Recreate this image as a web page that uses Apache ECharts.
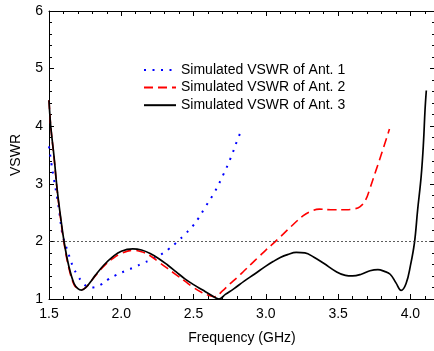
<!DOCTYPE html>
<html>
<head>
<meta charset="utf-8">
<script src="https://cdn.jsdelivr.net/npm/echarts@6/dist/echarts.min.js"></script>
<style>
  html, body { margin: 0; padding: 0; overflow: hidden; background: #fff; }
  #main { width: 436px; height: 351px; }
</style>
</head>
<body>
<div id="main"></div>
<script>
// Ant. 1 - blue dotted
const freq1 = [1.50, 1.516, 1.535, 1.557, 1.574, 1.592, 1.626, 1.645, 1.666, 1.695, 1.737, 1.77, 1.795, 1.852, 1.91, 1.968, 2.03, 2.089, 2.147, 2.204, 2.267, 2.324, 2.382, 2.439, 2.492, 2.536, 2.572, 2.646, 2.704, 2.757, 2.80, 2.826];
const vswr1 = [3.65, 3.36, 3.07, 2.75, 2.46, 2.14, 1.85, 1.71, 1.56, 1.42, 1.27, 1.21, 1.20, 1.24, 1.34, 1.42, 1.49, 1.55, 1.62, 1.68, 1.76, 1.86, 1.98, 2.12, 2.26, 2.41, 2.56, 2.86, 3.15, 3.45, 3.74, 3.90];

// Ant. 2 - red dashed
const freq2 = [1.50, 1.512, 1.535, 1.557, 1.58, 1.604, 1.638, 1.673, 1.70, 1.725, 1.755, 1.788, 1.82, 1.88, 1.94, 2.00, 2.08, 2.14, 2.20, 2.26, 2.32, 2.38, 2.44, 2.50, 2.56, 2.61, 2.646, 2.70, 2.75, 2.80, 2.85, 2.90, 2.95, 3.00, 3.05, 3.10, 3.15, 3.20, 3.25, 3.30, 3.37, 3.45, 3.55, 3.60, 3.65, 3.69, 3.72, 3.76, 3.80, 3.855];
const vswr2 = [4.45, 4.0, 3.45, 2.87, 2.40, 1.97, 1.53, 1.25, 1.18, 1.16, 1.20, 1.30, 1.40, 1.57, 1.70, 1.79, 1.845, 1.82, 1.75, 1.64, 1.53, 1.42, 1.31, 1.20, 1.11, 1.06, 1.04, 1.14, 1.26, 1.37, 1.49, 1.61, 1.73, 1.85, 1.96, 2.08, 2.20, 2.32, 2.43, 2.51, 2.56, 2.55, 2.55, 2.56, 2.60, 2.72, 2.92, 3.22, 3.52, 3.95];

// Ant. 3 - black solid
const freq3 = [1.50, 1.512, 1.535, 1.557, 1.58, 1.604, 1.638, 1.673, 1.70, 1.725, 1.755, 1.788, 1.82, 1.88, 1.94, 2.00, 2.08, 2.14, 2.20, 2.26, 2.32, 2.38, 2.44, 2.50, 2.56, 2.62, 2.676, 2.72, 2.78, 2.85, 2.92, 3.00, 3.05, 3.10, 3.15, 3.21, 3.27, 3.33, 3.40, 3.49, 3.55, 3.60, 3.66, 3.72, 3.775, 3.82, 3.86, 3.90, 3.936, 3.97, 4.00, 4.028, 4.05, 4.074, 4.09, 4.101, 4.11];
const vswr3 = [4.45, 4.0, 3.47, 2.89, 2.43, 2.0, 1.56, 1.27, 1.18, 1.155, 1.20, 1.30, 1.41, 1.59, 1.73, 1.83, 1.87, 1.85, 1.79, 1.70, 1.59, 1.47, 1.35, 1.25, 1.16, 1.07, 1.0, 1.08, 1.18, 1.31, 1.43, 1.57, 1.65, 1.72, 1.77, 1.81, 1.80, 1.73, 1.62, 1.47, 1.41, 1.40, 1.43, 1.49, 1.51, 1.48, 1.43, 1.28, 1.15, 1.27, 1.58, 1.98, 2.55, 3.12, 3.70, 4.28, 4.62];

const names = ['Simulated VSWR of Ant. 1', 'Simulated VSWR of Ant. 2', 'Simulated VSWR of Ant. 3'];
const refLevel = 2;

const font = 'Arial, "Liberation Sans", sans-serif';

function pairs(xs, ys) {
  return xs.map((x, i) => [x, ys[i]]);
}

const chart = echarts.init(document.getElementById('main'));

// main x axis with labels, plus a minor-tick copy; same again on top
function xAxes() {
  const base = {
    type: 'value', min: 1.5, max: 4.17,
    splitLine: { show: false },
    axisLine: { show: true, onZero: false, lineStyle: { color: '#000', width: 1 } }
  };
  return [
    Object.assign({}, base, {
      position: 'bottom', interval: 0.5,
      axisTick: { inside: true, length: 5, lineStyle: { color: '#000' } },
      axisLabel: {
        margin: 8, color: '#000', fontSize: 14, fontFamily: font,
        showMaxLabel: false,
        formatter: v => v.toFixed(1)
      },
      name: 'Frequency (GHz)', nameLocation: 'middle', nameGap: 32,
      nameTextStyle: { color: '#000', fontSize: 14, fontFamily: font }
    }),
    Object.assign({}, base, {
      position: 'bottom', interval: 0.1,
      axisLine: { show: false },
      axisTick: { inside: true, length: 3, lineStyle: { color: '#000' } },
      axisLabel: { show: false }
    }),
    Object.assign({}, base, {
      position: 'top', interval: 0.5,
      axisTick: { inside: true, length: 5, lineStyle: { color: '#000' } },
      axisLabel: { show: false }
    }),
    Object.assign({}, base, {
      position: 'top', interval: 0.1,
      axisLine: { show: false },
      axisTick: { inside: true, length: 3, lineStyle: { color: '#000' } },
      axisLabel: { show: false }
    })
  ];
}

const option = {
  animation: false,
  backgroundColor: '#fff',
  grid: { left: 49, right: 1, top: 11, bottom: 52 },
  legend: {
    data: names,
    orient: 'vertical',
    left: 143, top: 63, padding: 0,
    itemWidth: 32, itemHeight: 14, itemGap: 3.6,
    itemStyle: { opacity: 0 },
    textStyle: { color: '#000', fontSize: 14, fontFamily: font }
  },
  xAxis: xAxes(),
  yAxis: [
    {
      type: 'value', position: 'left', min: 1, max: 6, interval: 1,
      splitLine: { show: false },
      axisLine: { show: true, onZero: false, lineStyle: { color: '#000', width: 1 } },
      axisTick: { inside: true, length: 5, lineStyle: { color: '#000' } },
      minorTick: { show: true, splitNumber: 5, length: 3, lineStyle: { color: '#000' } },
      axisLabel: { margin: 6, color: '#000', fontSize: 14, fontFamily: font },
      name: 'VSWR', nameLocation: 'middle', nameGap: 26,
      nameTextStyle: { color: '#000', fontSize: 14, fontFamily: font }
    },
    {
      type: 'value', position: 'right', min: 1, max: 6, interval: 1,
      splitLine: { show: false },
      axisLine: { show: true, onZero: false, lineStyle: { color: '#000', width: 1 } },
      axisTick: { inside: true, length: 5, lineStyle: { color: '#000' } },
      minorTick: { show: true, splitNumber: 5, length: 3, lineStyle: { color: '#000' } },
      axisLabel: { show: false }
    }
  ],
  series: [
    {
      name: names[0], type: 'line', smooth: 0.4, symbol: 'none',
      data: pairs(freq1, vswr1),
      lineStyle: { color: '#0000ff', width: 2, type: [2, 6.5] },
      itemStyle: { color: '#0000ff' }
    },
    {
      name: names[1], type: 'line', smooth: 0.4, symbol: 'none',
      data: pairs(freq2, vswr2),
      lineStyle: { color: '#ff0000', width: 1.6, type: [9, 5] },
      itemStyle: { color: '#ff0000' }
    },
    {
      name: names[2], type: 'line', smooth: 0.4, symbol: 'none',
      data: pairs(freq3, vswr3),
      lineStyle: { color: '#000', width: 1.7 },
      itemStyle: { color: '#000' },
      markLine: {
        silent: true, symbol: 'none',
        label: { show: false },
        lineStyle: { color: '#333', width: 0.8, type: [2, 2] },
        data: [{ yAxis: refLevel }]
      }
    }
  ]
};

chart.setOption(option);
</script>
</body>
</html>
